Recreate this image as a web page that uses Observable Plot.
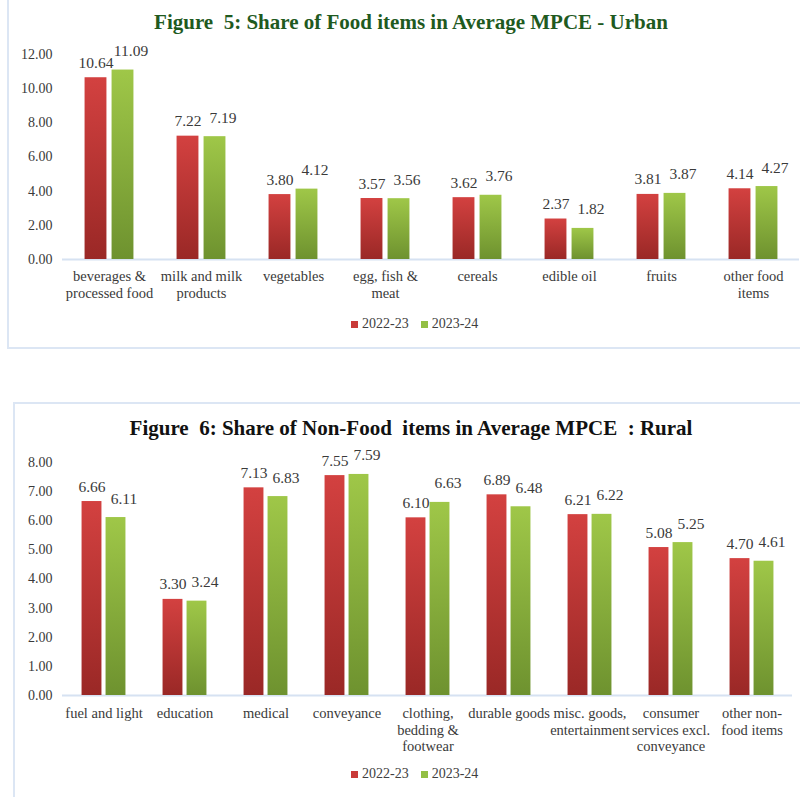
<!DOCTYPE html>
<html>
<head>
<meta charset="utf-8">
<script src="https://cdn.jsdelivr.net/npm/d3@7"></script>
<script src="https://cdn.jsdelivr.net/npm/@observablehq/plot@0.6"></script>
<style>
  html, body { margin: 0; padding: 0; background: #fff; }
  body { width: 800px; height: 797px; overflow: hidden; position: relative; font-family: "Liberation Serif", "Times New Roman", serif; }
  .plot svg, .plot svg text, .plot svg tspan { font-family: "Liberation Serif", "Times New Roman", serif !important; }
  .box { position: absolute; border: 2px solid #dce6f4; box-sizing: border-box; }
  .title { position: absolute; left: 0; width: 822px; text-align: center; font-weight: bold; font-size: 21px; line-height: 24px; white-space: pre; }
  .plot { position: absolute; left: 0; }
  .legend { position: absolute; font-size: 14px; color: #404040; display: flex; align-items: center; }
  .legend .sw { display: inline-block; width: 7px; height: 7px; margin-right: 4px; }
  .legend .it { display: flex; align-items: center; margin-right: 12px; }
</style>
</head>
<body>
<svg width="0" height="0" style="position:absolute">
  <defs>
    <linearGradient id="gRed" x1="0" y1="0" x2="0" y2="1">
      <stop offset="0" stop-color="#d34140"/>
      <stop offset="1" stop-color="#9a2826"/>
    </linearGradient>
    <linearGradient id="gGreen" x1="0" y1="0" x2="0" y2="1">
      <stop offset="0" stop-color="#9fc748"/>
      <stop offset="1" stop-color="#6e922f"/>
    </linearGradient>
  </defs>
</svg>

<div class="box" style="left:7px; top:-10px; width:900px; height:359px;"></div>
<div class="box" style="left:13px; top:402px; width:900px; height:500px;"></div>

<div class="title" style="top:10px; color:#1f5a1f;">Figure  5: Share of Food items in Average MPCE - Urban</div>
<div id="plot1" class="plot" style="top:40px;"></div>
<div id="legend1" class="legend" style="left:351px; top:316px;"></div>

<div class="title" style="top:416px; color:#111;">Figure  6: Share of Non-Food  items in Average MPCE  : Rural</div>
<div id="plot2" class="plot" style="top:440px;"></div>
<div id="legend2" class="legend" style="left:351px; top:766px;"></div>

<script>
// ---- Data ----
const years = ["2022-23", "2023-24"];

const foodCats = ["beverages & processed food", "milk and milk products", "vegetables", "egg, fish & meat", "cereals", "edible oil", "fruits", "other food items"];
const foodTickLabels = ["beverages &\nprocessed food", "milk and milk\nproducts", "vegetables", "egg, fish &\nmeat", "cereals", "edible oil", "fruits", "other food\nitems"];
const food2022 = [10.64, 7.22, 3.80, 3.57, 3.62, 2.37, 3.81, 4.14];
const food2023 = [11.09, 7.19, 4.12, 3.56, 3.76, 1.82, 3.87, 4.27];
const foodYTicks = [0, 2, 4, 6, 8, 10, 12];

const nonFoodCats = ["fuel and light", "education", "medical", "conveyance", "clothing, bedding & footwear", "durable goods", "misc. goods, entertainment", "consumer services excl. conveyance", "other non-food items"];
const nonFoodTickLabels = ["fuel and light", "education", "medical", "conveyance", "clothing,\nbedding &\nfootwear", "durable goods", "misc. goods,\nentertainment", "consumer\nservices excl.\nconveyance", "other non-\nfood items"];
const nonFood2022 = [6.66, 3.30, 7.13, 7.55, 6.10, 6.89, 6.21, 5.08, 4.70];
const nonFood2023 = [6.11, 3.24, 6.83, 7.59, 6.63, 6.48, 6.22, 5.25, 4.61];
const nonFoodYTicks = [0, 1, 2, 3, 4, 5, 6, 7, 8];

const fmt = d3.format(".2f");
const FONT = '"Liberation Serif", "Times New Roman", serif';

function chart({cats, tickLabels, a, b, yTicks, width, height, mt, mb, ml, mr, barW, gap, tickPad}) {
  const rows = cats.map((c, i) => ({cat: c, a: a[i], b: b[i]}));
  const bw = (width - ml - mr) / cats.length;
  const L = (bw - (2 * barW + gap)) / 2;
  const half = (barW + gap) / 2;
  return Plot.plot({
    width, height,
    marginTop: mt, marginBottom: mb, marginLeft: ml, marginRight: mr,
    style: {fontFamily: FONT, fontSize: "14px", color: "#3a3a3a", background: "transparent"},
    x: {domain: cats, padding: 0},
    y: {domain: [0, yTicks[yTicks.length - 1]]},
    marks: [
      Plot.ruleY([0], {stroke: "#d6e2f2", strokeWidth: 2}),
      Plot.barY(rows, {x: "cat", y: "a", fill: "url(#gRed)", insetLeft: L, insetRight: bw - L - barW}),
      Plot.barY(rows, {x: "cat", y: "b", fill: "url(#gGreen)", insetLeft: L + barW + gap, insetRight: L}),
      Plot.text(rows, {x: "cat", y: "a", text: d => fmt(d.a), dx: -half, dy: -10, lineAnchor: "bottom", fontSize: 15.5, fill: "#3a3a3a"}),
      Plot.text(rows, {x: "cat", y: "b", text: d => fmt(d.b), dx: half + 8, dy: -14, lineAnchor: "bottom", fontSize: 15.5, fill: "#3a3a3a"}),
      Plot.axisY({ticks: yTicks, tickFormat: fmt, tickSize: 0, tickPadding: 10, fontSize: 14, label: null}),
      Plot.axisX({tickSize: 0, tickPadding: tickPad, tickFormat: d => tickLabels[cats.indexOf(d)], fontSize: 14.5, lineHeight: 1.17, label: null})
    ]
  });
}

document.getElementById("plot1").append(chart({
  cats: foodCats, tickLabels: foodTickLabels, a: food2022, b: food2023, yTicks: foodYTicks,
  width: 800, height: 269, mt: 14, mb: 50, ml: 62, mr: 1, barW: 22, gap: 5, tickPad: 9
}));

document.getElementById("plot2").append(chart({
  cats: nonFoodCats, tickLabels: nonFoodTickLabels, a: nonFood2022, b: nonFood2023, yTicks: nonFoodYTicks,
  width: 800, height: 325, mt: 22, mb: 70, ml: 62, mr: 8, barW: 20, gap: 4, tickPad: 10
}));

function legend(id) {
  const el = document.getElementById(id);
  const cols = ["#c93a38", "#93bf44"];
  years.forEach((y, i) => {
    const it = document.createElement("div");
    it.className = "it";
    it.innerHTML = `<span class="sw" style="background:${cols[i]}"></span><span>${y}</span>`;
    el.append(it);
  });
}
legend("legend1");
legend("legend2");
</script>
</body>
</html>
